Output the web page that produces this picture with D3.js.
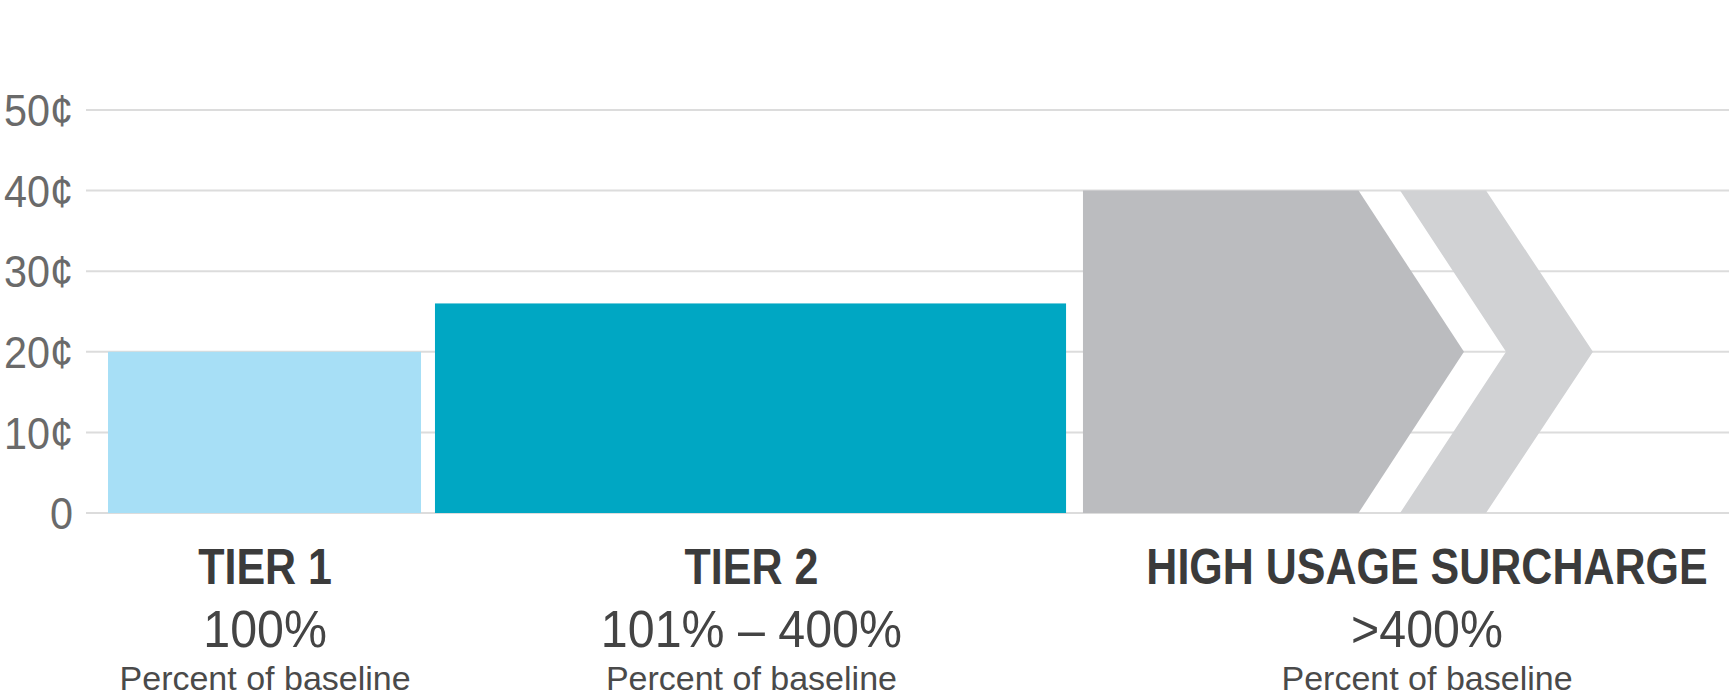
<!DOCTYPE html>
<html>
<head>
<meta charset="utf-8">
<script src="https://cdn.jsdelivr.net/npm/d3@7"></script>
<style>
  html, body { margin: 0; padding: 0; background: #fff; }
  svg { display: block; }
</style>
</head>
<body>
<div id="chart"></div>
<script>
// ---- data ----
const yTicks = [0, 10, 20, 30, 40, 50];
const yTickLabels = ["0", "10¢", "20¢", "30¢", "40¢", "50¢"];
const categories = ["TIER 1", "TIER 2", "HIGH USAGE SURCHARGE"];
const rangeLabels = ["100%", "101% – 400%", ">400%"];
const subLabels = ["Percent of baseline", "Percent of baseline", "Percent of baseline"];
const pricesCents = [20, 26, 40];
// horizontal layout of each tier, in percent of plot width
const tierStart = [1.34, 21.24, 60.68];
const tierEnd = [20.39, 59.65, 77.45];
const labelCenter = [10.9, 40.5, 81.62];
const arrowTip = 83.87;          // tip of the surcharge arrow
const chevronStart = 79.98;      // chevron left edge (top/bottom)
const chevronEnd = 85.21;        // chevron right edge (top/bottom)
const chevronNotch = 86.43;      // inner notch of chevron
const chevronTip = 91.72;        // outer tip of chevron
const colors = ["#a7dff6", "#00a7c3", "#bbbcbf"];
const chevronColor = "#d1d2d4";

// ---- layout ----
const W = 1729, H = 696;
const svg = d3.select("#chart").append("svg").attr("width", W).attr("height", H);

const x = d3.scaleLinear().domain([0, 100]).range([86, 1729]);
const y = d3.scaleLinear().domain([0, 50]).range([513, 110]);
const FONT = "'Liberation Sans',Arial,sans-serif";

// gridlines
svg.append("g").selectAll("line").data(yTicks).join("line")
  .attr("x1", x(0)).attr("x2", x(100))
  .attr("y1", d => y(d)).attr("y2", d => y(d))
  .attr("stroke", "#dcdcdc").attr("stroke-width", 2);

// y labels
svg.append("g").selectAll("text").data(yTicks).join("text")
  .attr("transform", d => `translate(73,${y(d)}) scale(0.92,1)`)
  .attr("dy", "0.36em")
  .attr("text-anchor", "end")
  .attr("font-family", FONT)
  .attr("font-size", 45).attr("fill", "#6a6a6a")
  .text((d, i) => yTickLabels[i]);

// tier bars
svg.append("g").selectAll("rect").data([0, 1]).join("rect")
  .attr("x", i => x(tierStart[i])).attr("width", i => x(tierEnd[i]) - x(tierStart[i]))
  .attr("y", i => y(pricesCents[i])).attr("height", i => y(0) - y(pricesCents[i]))
  .attr("fill", i => colors[i]);

// surcharge arrow
const v = pricesCents[2];
const arrowPts = [
  [x(tierStart[2]), y(v)], [x(tierEnd[2]), y(v)], [x(arrowTip), y(v / 2)],
  [x(tierEnd[2]), y(0)], [x(tierStart[2]), y(0)]
];
svg.append("path").attr("d", d3.line()(arrowPts) + "Z").attr("fill", colors[2]);

const chevPts = [
  [x(chevronStart), y(v)], [x(chevronEnd), y(v)], [x(chevronTip), y(v / 2)],
  [x(chevronEnd), y(0)], [x(chevronStart), y(0)], [x(chevronNotch), y(v / 2)]
];
svg.append("path").attr("d", d3.line()(chevPts) + "Z").attr("fill", chevronColor);

// category labels
const lab = svg.append("g").attr("text-anchor", "middle").attr("font-family", FONT);
lab.selectAll("text.cat").data(categories).join("text").attr("class", "cat")
  .attr("transform", (d, i) => `translate(${x(labelCenter[i])},584) scale(0.86,1)`)
  .attr("font-weight", "bold").attr("font-size", 50).attr("fill", "#3b3b3b")
  .text(d => d);
lab.selectAll("text.rng").data(rangeLabels).join("text").attr("class", "rng")
  .attr("transform", (d, i) => `translate(${x(labelCenter[i])},647) scale(0.93,1)`)
  .attr("font-size", 52).attr("fill", "#444")
  .text(d => d);
lab.selectAll("text.sub").data(subLabels).join("text").attr("class", "sub")
  .attr("transform", (d, i) => `translate(${x(labelCenter[i])},690)`)
  .attr("font-size", 34).attr("fill", "#4a4a4a")
  .text(d => d);
</script>
</body>
</html>
